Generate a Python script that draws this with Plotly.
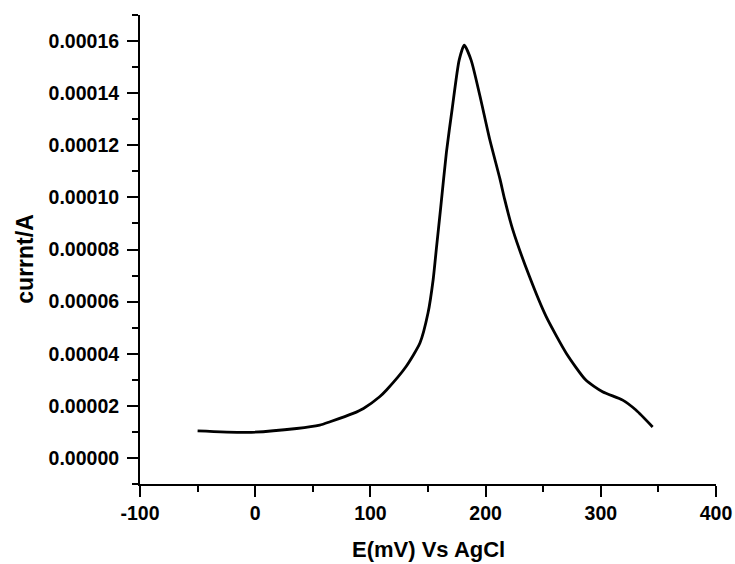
import plotly.graph_objects as go

potential_mV = [-50, -7, 36, 56, 65, 85, 94, 108, 114, 131, 143, 150, 154.5, 157.5,
                161, 166, 171, 177, 181.5, 187.5, 195, 203.5, 212.5, 216.5, 223.5,
                238, 252.5, 270, 287, 301.5, 319, 330.5, 345]
current_A = [1.04e-5, 0.98e-5, 1.13e-5, 1.26e-5, 1.39e-5, 1.71e-5, 1.90e-5, 2.35e-5,
             2.61e-5, 3.51e-5, 4.41e-5, 5.56e-5, 6.85e-5, 8.13e-5, 9.6e-5, 11.74e-5,
             13.4e-5, 15.26e-5, 15.84e-5, 15.26e-5, 13.91e-5, 12.24e-5, 10.70e-5,
             9.93e-5, 8.77e-5, 6.97e-5, 5.43e-5, 4.02e-5, 2.99e-5, 2.54e-5, 2.22e-5,
             1.84e-5, 1.19e-5]

x_tick_vals = [-100, 0, 100, 200, 300, 400]
x_tick_text = ["-100", "0", "100", "200", "300", "400"]
y_tick_vals = [0.0, 0.00002, 0.00004, 0.00006, 0.00008, 0.00010, 0.00012, 0.00014, 0.00016]
y_tick_text = ["0.00000", "0.00002", "0.00004", "0.00006", "0.00008",
               "0.00010", "0.00012", "0.00014", "0.00016"]

x_title = "E(mV) Vs AgCl"
y_title = "currnt/A"

font_family = "Arial, Liberation Sans, sans-serif"

fig = go.Figure()
fig.add_trace(go.Scatter(x=potential_mV, y=current_A, mode="lines",
                         line=dict(color="black", width=2.8, shape="spline", smoothing=0.6),
                         showlegend=False, hoverinfo="skip"))

axis_common = dict(showline=True, linecolor="black", linewidth=2, ticks="outside",
                   ticklen=11, tickwidth=2, tickcolor="black", showgrid=False,
                   zeroline=False, mirror=False, tickmode="array", automargin=False,
                   ticklabeloverflow="allow",
                   tickfont=dict(family=font_family, size=19.5, color="black", weight="bold"))

fig.update_xaxes(range=[-100, 400], tickvals=x_tick_vals, ticktext=x_tick_text,
                 minor=dict(ticklen=6, tickwidth=2, tickcolor="black", dtick=50,
                            tick0=0, ticks="outside"),
                 **axis_common)
fig.update_yaxes(range=[-0.00001, 0.00017], tickvals=y_tick_vals, ticktext=y_tick_text,
                 minor=dict(ticklen=6, tickwidth=2, tickcolor="black", dtick=0.00001,
                            tick0=0, ticks="outside"),
                 ticklabelstandoff=4,
                 **axis_common)

fig.add_annotation(text=x_title, xref="paper", yref="paper", x=0.5, y=-0.14,
                   xanchor="center", yanchor="middle", showarrow=False,
                   font=dict(family=font_family, size=22, color="black", weight="bold"))
fig.add_annotation(text=y_title, xref="paper", yref="paper", x=-0.2, y=0.48,
                   xanchor="center", yanchor="middle", showarrow=False, textangle=-90,
                   font=dict(family=font_family, size=23, color="black", weight="bold"))

fig.update_layout(width=735, height=564, plot_bgcolor="white", paper_bgcolor="white",
                  margin=dict(l=140, r=19, t=15, b=80, autoexpand=False))

fig.write_html("out.html")
